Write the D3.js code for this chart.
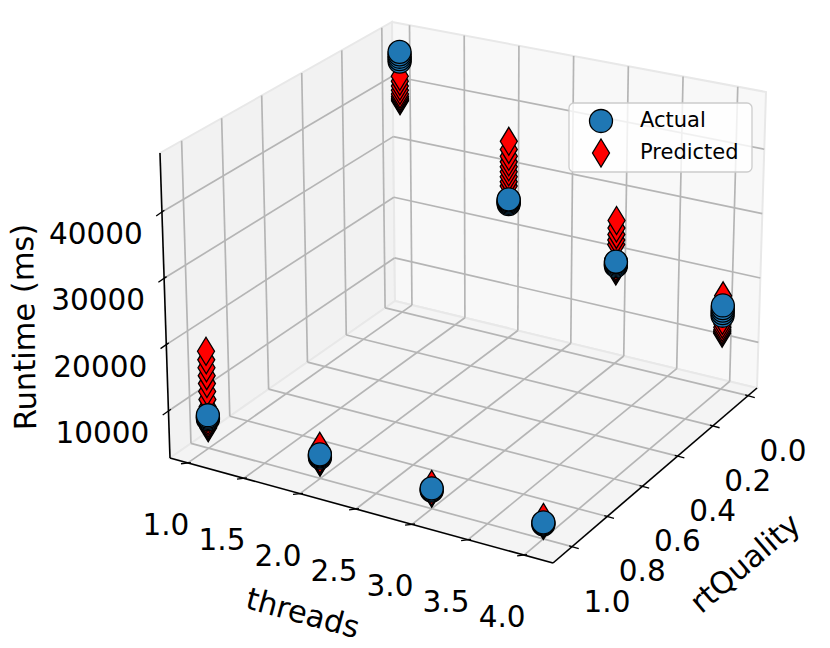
<!DOCTYPE html>
<html>
<head>
<meta charset="utf-8">
<script src="https://cdn.jsdelivr.net/npm/d3@7"></script>
<style>
  body { margin: 0; background: #fff; }
  text { font-family: "DejaVu Sans", sans-serif; }
</style>
</head>
<body>
<div id="chart"></div>
<script>
// Tick labels
const threadsTicks = [1.0, 1.5, 2.0, 2.5, 3.0, 3.5, 4.0];
const rtQualityTicks = [0.0, 0.2, 0.4, 0.6, 0.8, 1.0];
const runtimeTicks = [10000, 20000, 30000, 40000];

// One entry per configuration (threads, rtQuality)
const threads   = [1, 2, 3, 4, 1, 2, 3, 4];
const rtQuality = [0, 0, 0, 0, 1, 1, 1, 1];

// Runtimes (ms) per configuration
const actual = [
    [43900, 44300, 44700, 45100, 45500],
    [24400, 24600, 24800, 25000, 25150],
    [18300, 18500, 18700, 18900, 19000],
    [14300, 14700, 15100, 15500, 15900],
    [7300, 7500, 7700, 7900],
    [6000, 6200, 6350, 6500],
    [5550, 5700, 5880],
    [5000, 5150, 5290]
];
const predicted = [
    [37500, 37700, 37900, 38200, 38600, 39200, 39900, 40700, 41500],
    [27300, 28000, 28800, 29600, 30400, 31200, 32100, 33200, 34500],
    [17500, 17700, 17900, 18200, 21700, 22400, 23300, 24300, 25500],
    [11600, 11800, 12100, 12500, 13000, 13600, 17400],
    [6000, 6200, 6400, 6700, 7100, 7600, 8300, 9200, 10300, 11500, 12700, 13900, 15100, 16300, 17600],
    [5300, 5450, 5600, 5800, 7700],
    [5150, 5300, 5450, 6470],
    [4850, 5000, 5150, 6010]
];

const width = 830, height = 648;

// Screen position of the 8 corners of the 3D box
// key: u (threads lo/hi) + v (rtQuality back/front)
const boxBottom = { "00": [395, 301], "10": [757, 388], "01": [170, 458], "11": [553, 563] };
const boxTop    = { "00": [392, 22],  "10": [766, 92],  "01": [160, 153], "11": [556, 242] };

const x = d3.scaleLinear().domain([0.84, 4.258]).range([0, 1]);
const y = d3.scaleLinear().domain([-0.051, 1.108]).range([0, 1]);
const z = d3.scaleLinear().domain([2900, 48900]).range([0, 1]);

function bilinear(c, u, v) {
    const k = i => (1 - u) * (1 - v) * c["00"][i] + u * (1 - v) * c["10"][i]
                 + (1 - u) * v * c["01"][i] + u * v * c["11"][i];
    return [k(0), k(1)];
}
function project(u, v, w) {
    const b = bilinear(boxBottom, u, v), t = bilinear(boxTop, u, v);
    return [b[0] + (t[0] - b[0]) * w, b[1] + (t[1] - b[1]) * w];
}

const svg = d3.select("#chart").append("svg")
    .attr("width", width)
    .attr("height", height)
    .style("background", "#fff");

const line = d3.line();

// Panes
const panes = [
    { pts: [[0, 0, 0], [0, 1, 0], [0, 1, 1], [0, 0, 1]], fill: "#f2f2f2" },  // threads = lo
    { pts: [[0, 0, 0], [1, 0, 0], [1, 0, 1], [0, 0, 1]], fill: "#f8f8f8" },  // rtQuality = back
    { pts: [[0, 0, 0], [1, 0, 0], [1, 1, 0], [0, 1, 0]], fill: "#f4f4f4" }   // floor
];
svg.append("g").selectAll("path")
    .data(panes)
    .enter()
    .append("path")
    .attr("d", d => line(d.pts.map(p => project(...p))) + "Z")
    .attr("fill", d => d.fill)
    .attr("stroke", "#e8e8e8")
    .attr("stroke-width", 2);

// Grid lines
const grid = [];
threadsTicks.forEach(t => {
    grid.push([[x(t), 0, 0], [x(t), 1, 0]]);
    grid.push([[x(t), 0, 0], [x(t), 0, 1]]);
});
rtQualityTicks.forEach(r => {
    grid.push([[0, y(r), 0], [1, y(r), 0]]);
    grid.push([[0, y(r), 0], [0, y(r), 1]]);
});
runtimeTicks.forEach(v => {
    grid.push([[0, 0, z(v)], [0, 1, z(v)]]);
    grid.push([[0, 0, z(v)], [1, 0, z(v)]]);
});
svg.append("g").selectAll("path")
    .data(grid)
    .enter()
    .append("path")
    .attr("d", d => line(d.map(p => project(...p))))
    .attr("stroke", "#b5b5b5")
    .attr("stroke-width", 1.7)
    .attr("fill", "none");

// Axis lines
const axes = [
    [[0, 1, 0], [1, 1, 0]],
    [[1, 1, 0], [1, 0, 0]],
    [[0, 1, 0], [0, 1, 1]]
];
svg.append("g").selectAll("path")
    .data(axes)
    .enter()
    .append("path")
    .attr("d", d => line(d.map(p => project(...p))))
    .attr("stroke", "#000")
    .attr("stroke-width", 1.6)
    .attr("fill", "none");

function unit(a, b) {
    const dx = b[0] - a[0], dy = b[1] - a[1], l = Math.hypot(dx, dy);
    return [dx / l, dy / l];
}
const outThreads = unit(boxBottom["10"], boxBottom["01"]);
const outRt = unit(boxBottom["01"], boxBottom["11"]);
const outZ = unit(boxBottom["00"], boxBottom["01"]);

function drawTicks(ticks, pos, out, dx, dy, fmt) {
    const g = svg.append("g");
    ticks.forEach(t => {
        const p = pos(t);
        g.append("line")
            .attr("x1", p[0] - out[0] * 3).attr("y1", p[1] - out[1] * 3)
            .attr("x2", p[0] + out[0] * 7).attr("y2", p[1] + out[1] * 7)
            .attr("stroke", "#000").attr("stroke-width", 1.3);
        g.append("text")
            .attr("x", p[0] + dx).attr("y", p[1] + dy)
            .attr("text-anchor", "middle")
            .attr("dominant-baseline", "central")
            .style("font-size", "29.5px")
            .text(fmt(t));
    });
}
drawTicks(threadsTicks, t => project(x(t), 1, 0), outThreads, -22, 62, d3.format(".1f"));
drawTicks(rtQualityTicks, r => project(1, y(r), 0), outRt, 35, 55, d3.format(".1f"));
drawTicks(runtimeTicks, v => project(0, 1, z(v)), outZ, -66, 22, d => d);

// Axis labels
svg.append("text")
    .attr("transform", "translate(303,613) rotate(15.3)")
    .attr("text-anchor", "middle").attr("dominant-baseline", "central")
    .style("font-size", "30.5px").text("threads");
svg.append("text")
    .attr("transform", "translate(745,563) rotate(-40.6)")
    .attr("text-anchor", "middle").attr("dominant-baseline", "central")
    .style("font-size", "30.5px").text("rtQuality");
svg.append("text")
    .attr("transform", "translate(24,327) rotate(-91)")
    .attr("text-anchor", "middle").attr("dominant-baseline", "central")
    .style("font-size", "30.5px").text("Runtime (ms)");

// Markers
const diamond = "M0,-14L8.5,0L0,14L-8.5,0Z";
function markers(values) {
    const out = [];
    values.forEach((vals, i) => {
        vals.forEach(v => out.push({ t: threads[i], r: rtQuality[i], v: v }));
    });
    // far configurations first, then by height
    out.sort((a, b) => (a.r - b.r) || (a.v - b.v));
    return out;
}

svg.append("g").selectAll("path")
    .data(markers(predicted))
    .enter()
    .append("path")
    .attr("d", diamond)
    .attr("transform", d => {
        const p = project(x(d.t), y(d.r), z(d.v));
        return `translate(${p[0]},${p[1]})`;
    })
    .attr("fill", "#ff0000")
    .attr("stroke", "#000")
    .attr("stroke-width", 1.3);

svg.append("g").selectAll("circle")
    .data(markers(actual))
    .enter()
    .append("circle")
    .attr("cx", d => project(x(d.t), y(d.r), z(d.v))[0])
    .attr("cy", d => project(x(d.t), y(d.r), z(d.v))[1])
    .attr("r", 11.5)
    .attr("fill", "#1f77b4")
    .attr("stroke", "#000")
    .attr("stroke-width", 1.3);

// Legend
const legend = svg.append("g");
legend.append("rect")
    .attr("x", 569).attr("y", 103).attr("width", 183).attr("height", 69)
    .attr("rx", 5)
    .attr("fill", "#fff").attr("fill-opacity", 0.8)
    .attr("stroke", "#cccccc").attr("stroke-width", 1.3);
legend.append("circle")
    .attr("cx", 601).attr("cy", 121).attr("r", 11.5)
    .attr("fill", "#1f77b4").attr("stroke", "#000").attr("stroke-width", 1.3);
legend.append("path")
    .attr("d", diamond)
    .attr("transform", "translate(601,153)")
    .attr("fill", "#ff0000").attr("stroke", "#000").attr("stroke-width", 1.3);
legend.append("text")
    .attr("x", 640).attr("y", 127).style("font-size", "21px").text("Actual");
legend.append("text")
    .attr("x", 640).attr("y", 159).style("font-size", "21px").text("Predicted");
</script>
</body>
</html>
